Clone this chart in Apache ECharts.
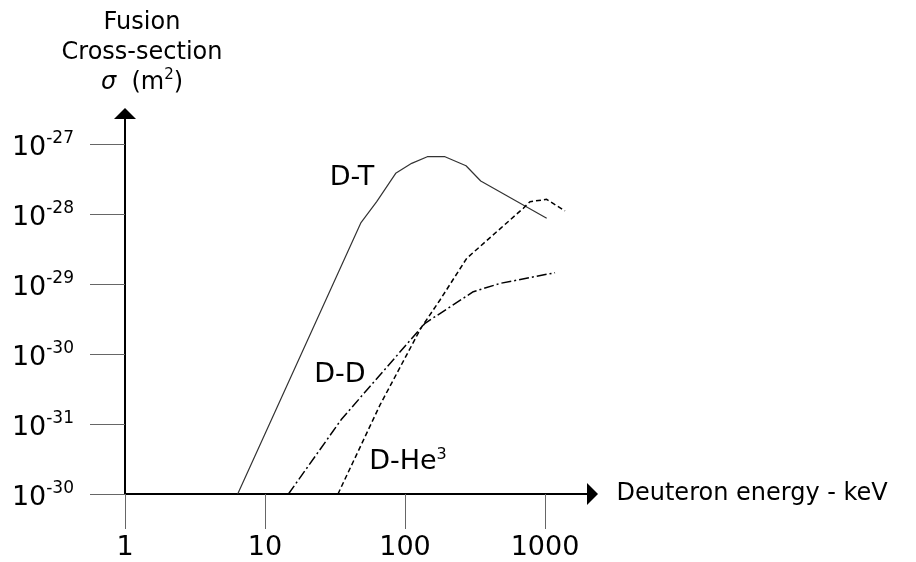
<!DOCTYPE html>
<html><head><meta charset="utf-8">
<script src="https://cdn.jsdelivr.net/npm/echarts@6/dist/echarts.min.js"></script>
<style>html,body{margin:0;padding:0;background:#fff}#c{width:916px;height:562px}</style>
</head><body><div id="c"></div>
<script>
const FONT = 'DejaVu Sans';

// Tick values and labels
const xTicks = [1, 10, 100, 1000];
const xTickLabels = ['1', '10', '100', '1000'];
const yTicks = [1e-32, 1e-31, 1e-30, 1e-29, 1e-28, 1e-27];          // m^2
const yTickExponents = ['-30', '-31', '-30', '-29', '-28', '-27']; // as printed

// D-T (solid)   energy in keV, cross-section in m^2
const energyDT = [6.38, 48.5, 62.8, 85.8, 111.6, 144.3, 193, 272.8, 347.4, 1028];
const sigmaDT  = [1e-32, 7.56e-29, 1.50e-28, 3.81e-28, 5.30e-28, 6.59e-28, 6.59e-28, 4.90e-28, 2.96e-28, 8.69e-29];

// D-D (dash-dot)
const energyDD = [14.7, 35.3, 139, 307.5, 477, 1179];
const sigmaDD  = [1e-32, 1.18e-31, 2.75e-30, 7.77e-30, 1.02e-29, 1.45e-29];

// D-He3 (dashed)
const energyDHe3 = [33.2, 66.3, 130, 177.8, 275.9, 700, 781, 1028, 1389];
const sigmaDHe3  = [1e-32, 1.87e-31, 2.35e-30, 5.91e-30, 2.33e-29, 1.21e-28, 1.50e-28, 1.62e-28, 1.11e-28];

// annotation anchors (data coordinates: keV, m^2)
const annotDT = [41.8, 3.27e-28];
const annotDD = [34.3, 5.0e-31];
const annotDHe3 = [105, 2.86e-32];

// ECharts rounds numbers below 1e-20, so the y scale works in units of 1e-32 m^2
const Y_UNIT = 1e-32;
const toUnit = v => v / Y_UNIT;
const yTickUnits = yTicks.map(t => Math.pow(10, Math.round(Math.log10(toUnit(t)))));

const xMin = 0.9999, xMax = 2184;
const yMin = 0.9999e-32, yMax = 2.73e-27;

function pairs(xs, ys) { return xs.map((x, i) => [x, toUnit(ys[i])]); }

function annotation(coord, text) {
  return {
    silent: true,
    symbol: 'circle',
    symbolSize: 1,
    itemStyle: { color: 'rgba(0,0,0,0)' },
    label: {
      show: true, position: 'inside', formatter: text,
      color: '#000', fontFamily: FONT, fontSize: 27,
      rich: {
        m: { fontFamily: FONT, fontSize: 27, lineHeight: 30, color: '#000' },
        s: { fontFamily: FONT, fontSize: 16, lineHeight: 20, verticalAlign: 'top', color: '#000' }
      }
    },
    data: [{ coord: [coord[0], toUnit(coord[1])] }]
  };
}

const chart = echarts.init(document.getElementById('c'), null, { renderer: 'canvas' });
chart.setOption({
  animation: false,
  backgroundColor: '#fff',
  grid: { left: 125, right: 323.5, top: 113.5, bottom: 68, containLabel: false, outerBoundsMode: 'none' },
  xAxis: {
    type: 'log', logBase: 10, min: xMin, max: xMax,
    name: 'Deuteron energy - keV', nameLocation: 'end', nameGap: 24,
    nameTextStyle: { fontFamily: FONT, fontSize: 24, color: '#000' },
    axisLine: { show: true, symbol: ['none', 'triangle'], symbolSize: [22, 11], lineStyle: { color: '#000', width: 2 } },
    axisTick: { show: true, inside: false, length: 35, customValues: xTicks, lineStyle: { color: '#666', width: 1 } },
    axisLabel: {
      show: true, margin: 40, customValues: xTicks, color: '#000', fontFamily: FONT, fontSize: 27,
      formatter: v => { const i = xTicks.findIndex(t => Math.abs(Math.log10(t) - Math.log10(v)) < 0.01); return i >= 0 ? xTickLabels[i] : ''; }
    },
    splitLine: { show: false }, minorTick: { show: false }
  },
  yAxis: {
    type: 'log', logBase: 10, min: toUnit(yMin), max: toUnit(yMax),
    name: 'Fusion\nCross-section\n{i|σ}  (m{s|2})', nameLocation: 'end', nameGap: 16,
    nameTextStyle: {
      fontFamily: FONT, fontSize: 24, lineHeight: 30, color: '#000', align: 'center',
      padding: [0, 0, 0, 34],
      rich: {
        i: { fontFamily: FONT, fontSize: 24, lineHeight: 30, fontStyle: 'italic', color: '#000' },
        s: { fontFamily: FONT, fontSize: 15, lineHeight: 28, verticalAlign: 'top', color: '#000' }
      }
    },
    axisLine: { show: true, symbol: ['none', 'triangle'], symbolSize: [22, 11], lineStyle: { color: '#000', width: 2 } },
    axisTick: { show: true, inside: false, length: 35, customValues: yTickUnits, lineStyle: { color: '#666', width: 1 } },
    axisLabel: {
      show: true, margin: 51, customValues: yTickUnits, padding: [8, 0, 0, 0],
      formatter: v => { const i = yTickUnits.findIndex(t => Math.abs(Math.log10(t) - Math.log10(v)) < 0.01); return i >= 0 ? '{b|10}{s|' + yTickExponents[i] + '}' : ''; },
      rich: {
        b: { fontFamily: FONT, fontSize: 27, lineHeight: 36, color: '#000' },
        s: { fontFamily: FONT, fontSize: 17, lineHeight: 18, verticalAlign: 'top', color: '#000' }
      }
    },
    splitLine: { show: false }, minorTick: { show: false }
  },
  series: [
    {
      name: 'D-T', type: 'line', data: pairs(energyDT, sigmaDT), symbol: 'none', showSymbol: false, silent: true,
      lineStyle: { color: '#333', width: 1.2, type: 'solid' },
      markPoint: annotation(annotDT, '{m|D-T}')
    },
    {
      name: 'D-D', type: 'line', data: pairs(energyDD, sigmaDD), symbol: 'none', showSymbol: false, silent: true,
      lineStyle: { color: '#000', width: 1.5, type: [10, 3, 2, 3] },
      markPoint: annotation(annotDD, '{m|D-D}')
    },
    {
      name: 'D-He3', type: 'line', data: pairs(energyDHe3, sigmaDHe3), symbol: 'none', showSymbol: false, silent: true,
      lineStyle: { color: '#000', width: 1.5, type: [5, 3] },
      markPoint: annotation(annotDHe3, '{m|D-He}{s|3}')
    }
  ]
});
</script>
</body></html>
